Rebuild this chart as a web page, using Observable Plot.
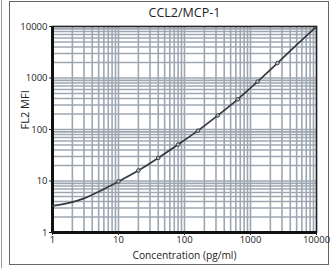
<!DOCTYPE html>
<html><head><meta charset="utf-8">
<script src="https://cdn.jsdelivr.net/npm/d3@7"></script>
<script src="https://cdn.jsdelivr.net/npm/@observablehq/plot@0.6"></script>
<style>
body{margin:0;background:#fff;font-family:"Open Sans",sans-serif;}
#wrap{position:relative;width:331px;height:268px;}
#box{position:absolute;left:9px;top:1px;width:318px;height:262px;border:1px solid #666;}
#edge{position:absolute;left:1px;top:0;width:0;height:268px;border-left:1px solid #999;}
svg{position:absolute;left:0;top:0;}
</style></head>
<body><div id="wrap"><div id="edge"></div><div id="box"></div></div>
<script>
const title = "CCL2/MCP-1";
const xLabel = "Concentration (pg/ml)";
const yLabel = "FL2 MFI";
const decadeTicks = [1, 10, 100, 1000, 10000];
const minorSteps = [1, 2, 3, 4, 5, 6, 7, 8, 9];
// fitted curve
const curveX = [1, 2, 3, 5, 10, 20, 40, 80, 160, 320, 640, 1280, 2560, 5000, 10000];
const curveY = [3.3, 3.9, 4.6, 6.2, 9.8, 16.0, 28, 51, 95, 188, 385, 850, 1950, 4400, 10000];
// standard points (markers)
const stdX = [10, 20, 40, 80, 160, 320, 640, 1280, 2560];
const stdY = [9.8, 16.0, 28, 51, 95, 188, 385, 850, 1950];

const grid = decadeTicks.slice(0, -1).flatMap(d => minorSteps.map(m => d * m)).concat([10000]);
const curve = curveX.map((x, i) => ({x, y: curveY[i]}));
const stds = stdX.map((x, i) => ({x, y: stdY[i]}));

const chart = Plot.plot({
  width: 331, height: 268,
  marginLeft: 52, marginRight: 15, marginTop: 26, marginBottom: 36,
  style: {fontFamily: "'Open Sans', sans-serif", fontSize: "9px", color: "#222", background: "transparent"},
  x: {type: "log", domain: [1, 10000]},
  y: {type: "log", domain: [1, 10000]},
  marks: [
    Plot.ruleX(grid, {stroke: "#9ea7b1", strokeWidth: 1.6}),
    Plot.ruleY(grid, {stroke: "#9ea7b1", strokeWidth: 1.6}),
    Plot.frame({stroke: "#222", strokeWidth: 1.5}),
    Plot.ruleX([1], {stroke: "#111", strokeWidth: 3}),
    Plot.ruleY([1], {stroke: "#111", strokeWidth: 3}),
    Plot.axisX({ticks: decadeTicks, tickFormat: d => String(d), tickSize: 3, tickPadding: 1, fontSize: 9.5, label: null}),
    Plot.axisY({ticks: decadeTicks, tickFormat: d => String(d), tickSize: 3, tickPadding: 2, fontSize: 9.5, label: null}),
    Plot.line(curve, {x: "x", y: "y", stroke: "#353a3f", strokeWidth: 1.7, curve: "catmull-rom"}),
    Plot.dot(stds, {x: "x", y: "y", r: 1.8, stroke: "#353a3f", fill: "#bbb", strokeWidth: 1}),
    Plot.text([title], {frameAnchor: "top", dy: -14, text: d => d, fontSize: 12.5, fill: "#222", lineAnchor: "middle"}),
    Plot.text([xLabel], {frameAnchor: "bottom", dy: 23, text: d => d, fontSize: 10.2, fill: "#222", lineAnchor: "middle"}),
    Plot.text([yLabel], {frameAnchor: "left", dx: -27, rotate: -90, text: d => d, fontSize: 11, fill: "#222", lineAnchor: "middle"})
  ]
});
document.getElementById("wrap").appendChild(chart);
</script></body></html>
